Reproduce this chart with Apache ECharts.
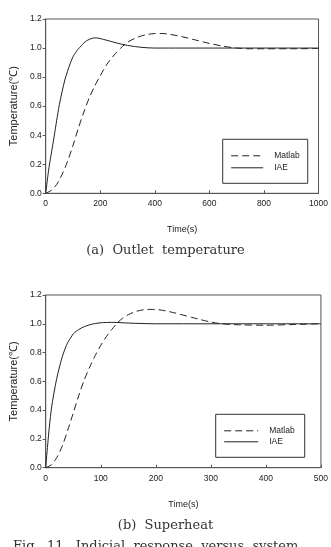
<!DOCTYPE html>
<html><head><meta charset="utf-8">
<script src="https://cdn.jsdelivr.net/npm/echarts@6/dist/echarts.min.js"></script>
<style>html,body{margin:0;padding:0;background:#fff}#c{width:331px;height:547px}</style>
</head><body><div id="c"></div>
<script>
// Plot (a) Outlet temperature
const timeA_IAE = [0,10,20,30,40,50,60,70,80,90,100,110,120,130,140,150,160,170,180,190,200,225,250,275,300,350,400,500,600,700,800,900,1000];
const iaeA =      [0,0.15,0.27,0.38,0.50,0.61,0.70,0.78,0.84,0.895,0.94,0.97,0.995,1.015,1.035,1.05,1.06,1.067,1.07,1.069,1.065,1.053,1.04,1.028,1.018,1.005,1.0,1.0,1.0,1.0,1.0,1.0,1.0];
const timeA_M = [0,20,40,60,80,100,120,140,160,180,200,225,250,275,300,325,350,375,400,425,450,500,550,600,650,700,750,800,900,1000];
const matlabA = [0,0.02,0.06,0.13,0.22,0.33,0.45,0.56,0.66,0.74,0.81,0.89,0.95,1.0,1.04,1.065,1.083,1.094,1.10,1.10,1.096,1.078,1.055,1.032,1.013,1.0,0.995,0.995,0.995,0.997];
// Plot (b) Superheat
const timeB_IAE = [0,5,10,15,20,25,30,35,40,45,50,55,60,70,80,90,100,110,120,135,150,175,200,300,400,500];
const iaeB =      [0,0.22,0.40,0.52,0.62,0.70,0.77,0.825,0.87,0.90,0.93,0.947,0.96,0.98,0.993,1.002,1.007,1.009,1.01,1.008,1.005,1.002,1.0,1.0,1.0,1.0];
const timeB_M = [0,10,20,30,40,50,60,70,80,90,100,110,120,130,140,150,160,170,180,190,200,210,220,235,250,265,280,300,320,350,400,450,500];
const matlabB = [0,0.02,0.07,0.15,0.26,0.38,0.50,0.61,0.70,0.78,0.85,0.91,0.96,1.005,1.04,1.063,1.08,1.092,1.098,1.10,1.099,1.095,1.088,1.075,1.06,1.045,1.03,1.012,1.0,0.993,0.99,0.995,1.0];
const seriesNames = ['Matlab','IAE'];
const captions = ['(a)  Outlet  temperature','(b)  Superheat','Fig.  11.  Indicial  response  versus  system'];

const pairs = (t,v)=>t.map((x,i)=>[x,v[i]]);
const lineCol = '#222';
const lblFont = {fontFamily:'Liberation Sans',fontSize:8.5,color:'#222'};
function xAx(idx,max,interval){return {type:'value',gridIndex:idx,min:0,max:max,interval:interval,
  axisLine:{show:true,lineStyle:{color:'#555',width:1}},
  axisTick:{show:true,inside:true,length:3,lineStyle:{color:'#555'}},
  splitLine:{show:false},
  axisLabel:Object.assign({},lblFont,{margin:6,formatter:v=>String(v)}),
  name:'Time(s)',nameLocation:'middle',nameGap:32,
  nameTextStyle:{fontFamily:'Liberation Sans',fontSize:9,color:'#222'}};}
function yAx(idx){return {type:'value',gridIndex:idx,min:0,max:1.2,interval:0.2,
  axisLine:{show:true,lineStyle:{color:'#555',width:1}},
  axisTick:{show:true,inside:false,length:3,lineStyle:{color:'#555'}},
  splitLine:{show:false},
  axisLabel:Object.assign({},lblFont,{margin:4,formatter:v=>v.toFixed(1)}),
  name:'Temperature(℃)',nameLocation:'middle',nameGap:25,
  nameTextStyle:{fontFamily:'Liberation Sans',fontSize:11,color:'#222'}};}
function legendBox(left,top,pad,gap,iw){
  return {show:true,data:seriesNames.map(n=>({name:n})),orient:'vertical',left:left,top:top,padding:pad,itemGap:gap,itemWidth:iw,itemHeight:10,
    borderColor:'#333',borderWidth:1,backgroundColor:'#fff',
    itemStyle:{opacity:0},lineStyle:{width:1},
    textStyle:{fontFamily:'Liberation Sans',fontSize:8.5,color:'#222',padding:[0,0,0,6]}};
}
const chart = echarts.init(document.getElementById('c'),null,{renderer:'canvas'});
function mkSeries(name,xi,data,dashed){
  return {name:name,type:'line',xAxisIndex:xi,yAxisIndex:xi,data:data,smooth:0.3,showSymbol:false,symbol:'none',
    lineStyle:{color:lineCol,width:1,type:dashed?[7,4]:'solid'},itemStyle:{color:lineCol},animation:false};
}
const capStyle = {fontFamily:'DejaVu Serif',fontSize:13,fontWeight:'normal',color:'#333'};
chart.setOption({
  animation:false,
  grid:[
    {left:37.7,top:19,width:283.3,height:174.3,show:true,borderColor:'#555',borderWidth:1},
    {left:37.7,top:295,width:283.3,height:172.7,show:true,borderColor:'#555',borderWidth:1}
  ],
  xAxis:[xAx(0,1000,200),xAx(1,500,100)],
  yAxis:[yAx(0),yAx(1)],
  legend:[
    legendBox(222.7,139.3,[12,8,11,8],3,32),
    legendBox(215.7,414.3,[12,10,11,8],2,34)
  ],
  title:[
    {text:captions[0],left:'center',top:244,padding:0,textStyle:capStyle},
    {text:captions[1],left:'center',top:519,padding:0,textStyle:capStyle},
    {text:captions[2],left:13,top:540,padding:0,textStyle:capStyle}
  ],
  series:[
    mkSeries('Matlab',0,pairs(timeA_M,matlabA),true),
    mkSeries('IAE',0,pairs(timeA_IAE,iaeA),false),
    mkSeries('Matlab',1,pairs(timeB_M,matlabB),true),
    mkSeries('IAE',1,pairs(timeB_IAE,iaeB),false)
  ]
});
</script></body></html>
